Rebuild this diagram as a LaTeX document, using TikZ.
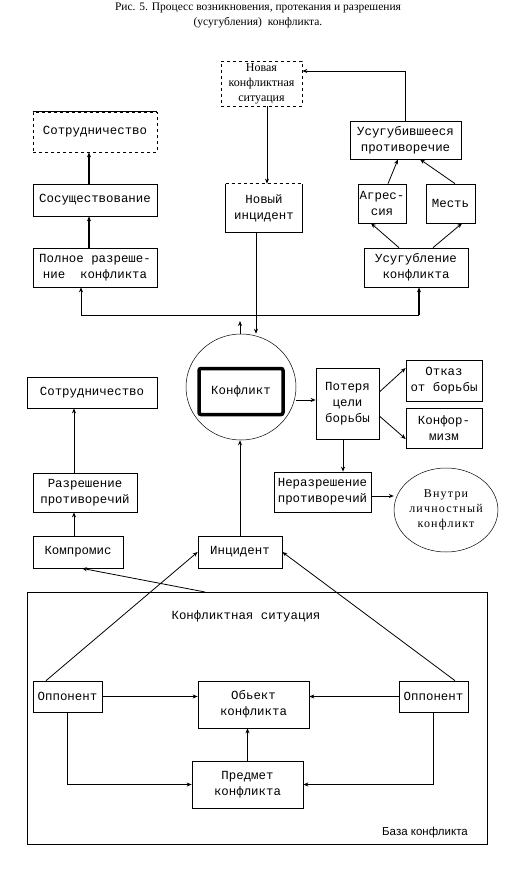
\documentclass[tikz,border=0pt]{standalone}
\usepackage{fontspec}
\setmainfont{Liberation Serif}
\setmonofont{Liberation Mono}
\setsansfont{Liberation Sans}
\newfontfamily\spacedserif{Liberation Serif}[LetterSpace=10]
\usetikzlibrary{arrows.meta,shapes.geometric}

\newcommand{\boxfont}{\ttfamily\fontsize{12.4}{16}\selectfont}
\newcommand{\titlefont}{\rmfamily\fontsize{11.5}{15}\selectfont}

\tikzset{
	box/.style={draw, line width=0.7pt, inner sep=0pt, align=center, font=\boxfont},
	ring/.style={draw, ellipse, line width=0.5pt, inner sep=0pt, align=center, font=\boxfont},
	arr/.style={-{Stealth[length=5pt,width=4pt]}, line width=0.8pt},
}

\begin{document}
\begin{tikzpicture}[x=1pt, y=-1pt]
	\useasboundingbox (0,0) rectangle (525,874);

	\node[font=\titlefont, align=center] (title) at (258,15) {Рис. 5. Процесс возникновения, протекания и разрешения\\(усугубления)\ \ конфликта.};

	% upper part:
	\node[box, dashed, font=\rmfamily\fontsize{12}{15}\selectfont, minimum width=81, minimum height=45] (newsit) at (261.5,83.5) {Новая\\конфликтная\\ситуация};
	\node[box, dashed, minimum width=124, minimum height=40] (coop1) at (95,132) {Сотрудничество};
	\draw[line width=1pt] (coop1.north west) -- (coop1.north east);
	\node[box, minimum width=124, minimum height=32] (coex) at (95,200) {Сосуществование};
	\node[box, minimum width=124, minimum height=39] (fullres) at (95,267.5) {Полное разреше-\\ние\ \ конфликта};
	\node[box, draw=none, minimum width=76, minimum height=48] (newinc) at (264,208) {Новый\\инцидент};
	\draw[line width=0.9pt] (newinc.north west) -- (newinc.south west) -- (newinc.south east) -- (newinc.north east);
	\draw[dashed, line width=0.7pt] (newinc.north west) -- (newinc.north east);
	\node[box, minimum width=111, minimum height=38] (deep) at (405.5,140) {Усугубившееся\\противоречие};
	\node[box, minimum width=48, minimum height=39] (aggr) at (382,203.5) {Агрес-\\сия};
	\node[box, minimum width=49, minimum height=39] (revenge) at (450.5,203.5) {Месть};
	\node[box, minimum width=104, minimum height=39] (deepen) at (416,267.5) {Усугубление\\конфликта};

	% middle part:
	\node[ring, minimum width=110, minimum height=106] (conflict) at (241,387) {};
	\node[box, line width=3.5pt, rounded corners=2pt, minimum width=84, minimum height=46] (conf) at (241,391.5) {Конфликт};
	\node[box, minimum width=63, minimum height=71] (loss) at (347.5,403.5) {Потеря\\цели\\борьбы};
	\node[box, minimum width=76, minimum height=41] (refuse) at (444,380.5) {Отказ\\от борьбы};
	\node[box, minimum width=76, minimum height=40] (conform) at (444,428) {Конфор-\\мизм};
	\node[box, minimum width=97, minimum height=40] (unres) at (322.5,492) {Неразрешение\\противоречий};
	\node[ring, font=\spacedserif\fontsize{12}{15}\selectfont, minimum width=92, minimum height=84] (inner) at (446,510) {Внутри\\личностный\\конфликт};
	\node[box, minimum width=130, minimum height=31] (coop2) at (92,392.5) {Сотрудничество};
	\node[box, minimum width=104, minimum height=39] (resol) at (85,492.5) {Разрешение\\противоречий};
	\node[box, minimum width=90, minimum height=32] (compr) at (78,552) {Компромис};
	\node[box, minimum width=84, minimum height=32] (incid) at (240,552) {Инцидент};

	% base of the conflict:
	\draw[line width=0.7pt] (27,592) rectangle (487,844);
	\node[font=\boxfont] (sitlabel) at (246,616) {Конфликтная ситуация};
	\node[font=\sffamily\fontsize{11.5}{13}\selectfont] (baselabel) at (425,833) {База конфликта};
	\node[box, minimum width=69, minimum height=31] (opp1) at (67.5,696.5) {Оппонент};
	\node[box, minimum width=69, minimum height=31] (opp2) at (433.5,696.5) {Оппонент};
	\node[box, minimum width=111, minimum height=47] (object) at (253.5,704.5) {Обьект\\конфликта};
	\node[box, minimum width=111, minimum height=47] (subject) at (247.5,784.5) {Предмет\\конфликта};

	% connectors, upper part
	\draw[arr] (deep.north) |- ([yshift=12.5]newsit.east);
	\draw[arr] ([xshift=5.5]newsit.south) -- ([xshift=3]newinc.north);
	\draw[arr, line width=1.1pt] ([xshift=-6]coex.north) -- ([xshift=-6]coop1.south);
	\draw[arr, line width=1.3pt] ([xshift=-6]fullres.north) -- ([xshift=-6]coex.south);
	\draw[arr] ([xshift=6]aggr.north) -- ([xshift=-7.5]deep.south);
	\draw[arr] ([xshift=4.5]revenge.north) -- ([xshift=14.5]deep.south);
	\draw[arr] ([xshift=-17]deepen.north) -- ([xshift=-11]aggr.south);
	\draw[arr] ([xshift=17]deepen.north) -- ([xshift=11.5]revenge.south);
	\coordinate (hl) at (81,315);
	\coordinate (hr) at (419,315);
	\coordinate (up) at (240,321);
	\draw[line width=0.8pt] (hl) -- (hr);
	\draw[arr] (hl) -- (hl |- fullres.south);
	\draw[arr, line width=1.1pt] (hr) -- (hr |- deepen.south);
	\draw[arr] ([xshift=-1]conflict.north) -- (up);
	\draw[arr] ([xshift=-8]newinc.south) -- ([xshift=-8]newinc.south |- conflict.north);

	% connectors, middle part
	\draw[arr] ([yshift=-13]conflict.east) -- ([yshift=-13]conflict.east -| loss.west);
	\draw[arr] ([yshift=11.5]loss.east) -- ([yshift=12.5]refuse.west);
	\draw[arr] ([yshift=-12.5]loss.east) -- ([yshift=-11]conform.west);
	\draw[arr] ([xshift=-4.5]loss.south) -- ([xshift=-4.5]loss.south |- unres.north);
	\draw[arr] ([yshift=-4]unres.east) -- ([yshift=-4]unres.east -| inner.west);
	\draw[arr] ([xshift=-11]resol.north) -- ([xshift=-11]resol.north |- coop2.south);
	\draw[arr] ([xshift=-4]compr.north) -- ([xshift=-4]compr.north |- resol.south);
	\draw[arr] (incid.north) -- (incid.north |- conflict.south);

	% connectors, base
	\coordinate (bt) at (205,592);
	\draw[arr] (bt) -- ([xshift=4]compr.south);
	\draw[arr] ([xshift=-21.5]opp1.north) -- (incid.west);
	\draw[arr] ([xshift=21.5]opp2.north) -- (incid.east);
	\draw[arr] (opp1.east) -- (opp1.east -| object.west);
	\draw[arr] (opp2.west) -- (opp2.west -| object.east);
	\draw[arr, line width=1.1pt] (subject.north) -- (subject.north |- object.south);
	\draw[arr] (opp1.south) |- (subject.west);
	\draw[arr] (opp2.south) |- (subject.east);
\end{tikzpicture}
\end{document}
